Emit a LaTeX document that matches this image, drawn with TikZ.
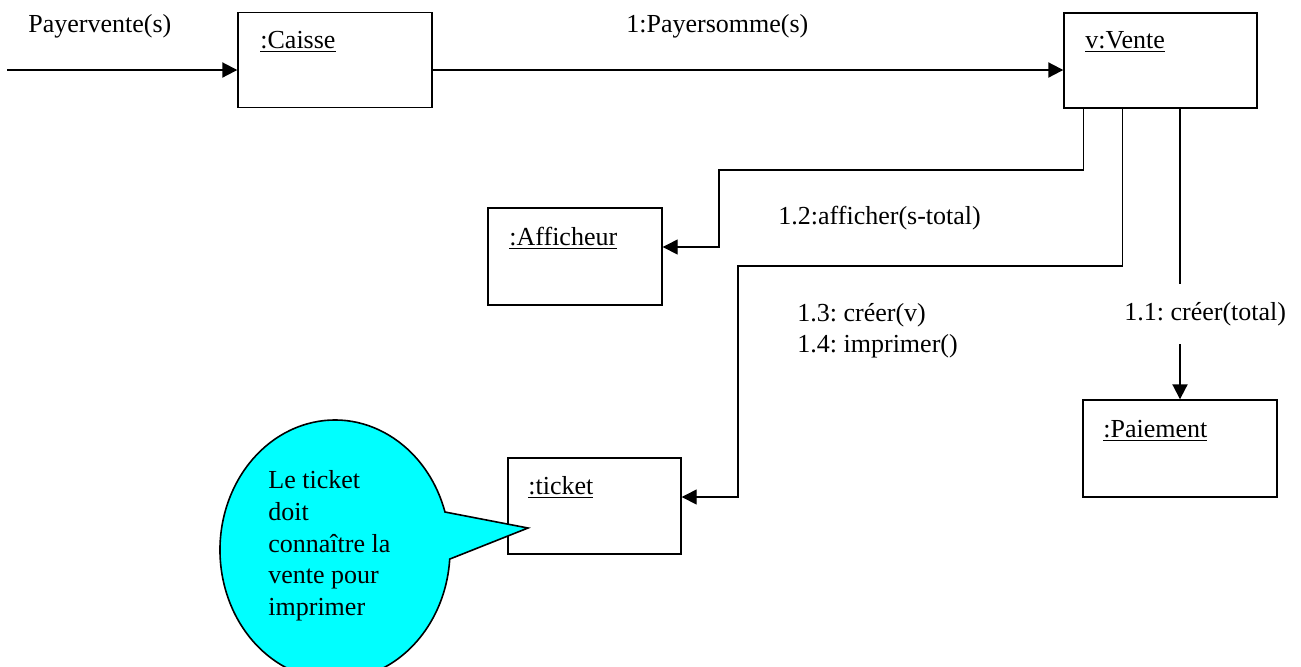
\documentclass[tikz,border=0pt]{standalone}
\usepackage{fontspec}
\setmainfont{Liberation Serif}
\usetikzlibrary{arrows.meta, positioning, calc}
\definecolor{bulle}{RGB}{0,255,255}
\frenchspacing

\begin{document}
\begin{tikzpicture}[x=0.5pt, y=-0.5pt,
    every node/.style={font=\fontsize{13}{15.85}\selectfont},
    objet/.style={rectangle, draw, line width=0.7pt, inner sep=0pt},
    nom/.style={anchor=base west, inner sep=0pt},
    texte/.style={anchor=base west, inner sep=0pt},
    msg/.style={-{Triangle[length=7.5pt,width=7.5pt]}, line width=1pt},
    lien/.style={line width=0.7pt}]
    \useasboundingbox (0,0) rectangle (1301,666);

    % Objets
    \node[objet, minimum width=97pt, minimum height=47.5pt] (caisse) at (335,60) {};
    \node[nom] at (260,48) {\underline{:Caisse}};
    \node[objet, minimum width=96.5pt, minimum height=47.5pt] (vente) at (1160.5,60.5) {};
    \node[nom] at (1085,48) {\underline{v:Vente}};
    \node[objet, minimum width=87pt, minimum height=48.5pt] (afficheur) at (575,256.5) {};
    \node[nom] at (509,245) {\underline{:Afficheur}};
    \node[objet, minimum width=86.5pt, minimum height=48pt] (ticket) at (594.5,506) {};
    \node[nom] at (528,494) {\underline{:ticket}};
    \node[objet, minimum width=97pt, minimum height=48.5pt] (paiement) at (1180,448.5) {};
    \node[nom] at (1103,437) {\underline{:Paiement}};

    % Messages
    \coordinate (entree) at (7,70);
    \draw[msg] (entree) -- (entree -| caisse.west);
    \node[texte] at (28,32) {Payervente(s)};
    \draw[msg] (entree -| caisse.east) -- (entree -| vente.west);
    \node[texte] at (626,32) {1:Payersomme(s)};

    % 1.2
    \draw[msg, lien] ([xshift=10pt]vente.south west) |- (719,170) |- ([yshift=4.75pt]afficheur.east);
    \node[texte] at (778,224) {1.2:afficher(s-total)};

    % 1.3 et 1.4
    \draw[msg, lien] ([xshift=29.5pt]vente.south west) |- (738,266) |- ([yshift=4.5pt]ticket.east);
    \node[texte] at (797,321) {1.3: créer(v)};
    \node[texte] at (797,352) {1.4: imprimer()};

    % 1.1
    \node[texte] (m11) at (1124,320) {1.1: créer(total)};
    \draw[line width=1pt] (paiement.north |- vente.south) -- ++(0,175);
    \draw[msg] ([yshift=27.5pt]paiement.north) -- (paiement.north);

    % Note
    \coordinate (pointe) at (528,528);
    \draw[fill=bulle, line width=0.8pt] (335,550) ++(17:57.5pt and 65pt)
        arc[start angle=17, end angle=356, x radius=57.5pt, y radius=65pt] -- (pointe) -- cycle;
    \node[anchor=west, align=left, inner sep=0pt] (note) at (268,546)
        {Le ticket\\doit\\connaître la\\vente pour\\imprimer};
\end{tikzpicture}
\end{document}
